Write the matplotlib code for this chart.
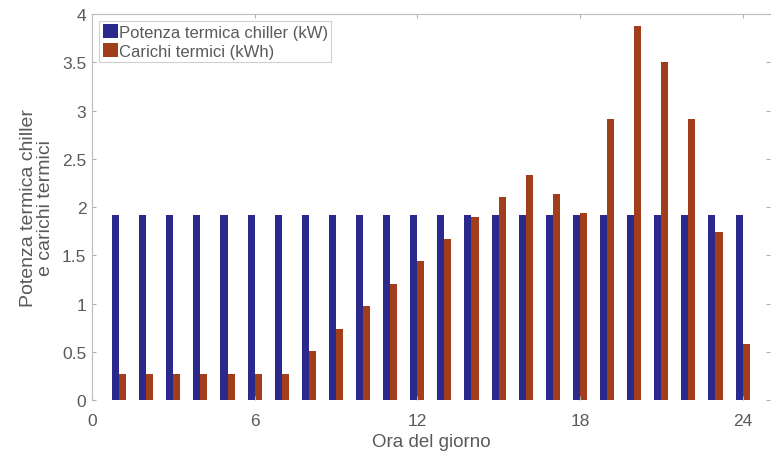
import numpy as np
import matplotlib
matplotlib.use("Agg")
import matplotlib.pyplot as plt

# hours of the day and the two series
hours = list(range(1, 25))
chiller_kw = [1.92] * 24
carichi_kwh = [0.27, 0.27, 0.27, 0.27, 0.27, 0.27, 0.27, 0.51, 0.74, 0.97, 1.20, 1.44,
               1.67, 1.90, 2.10, 2.33, 2.13, 1.94, 2.91, 3.88, 3.50, 2.91, 1.74, 0.58]
xticks = [0, 6, 12, 18, 24]
yticks = [0, 0.5, 1, 1.5, 2, 2.5, 3, 3.5, 4]

blue = "#2b2a8c"
red = "#a13d1b"
grey = "#5a5a5a"

plt.rcParams["font.family"] = ["Liberation Sans", "DejaVu Sans"]

fig = plt.figure(figsize=(7.71, 4.56), dpi=100)
ax = fig.add_axes([0.1193, 0.1206, 0.879, 0.8465])

x = np.array(hours)
w = 0.26
ax.bar(x - w / 2, chiller_kw, width=w, color=blue, label="Potenza termica chiller (kW)")
ax.bar(x + w / 2, carichi_kwh, width=w, color=red, label="Carichi termici (kWh)")

ax.set_xlim(0, 25)
ax.set_ylim(0, 4)
ax.set_xticks(xticks)
ax.set_yticks(yticks)
ax.set_yticklabels(["0", "0.5", "1", "1.5", "2", "2.5", "3", "3.5", "4"])
ax.tick_params(direction="in", length=3, colors="#b0b0b0", labelcolor=grey,
               labelsize=12.5, top=True, right=True)
ax.tick_params(axis="x", pad=9)
ax.tick_params(axis="y", pad=4)

for side in ["left", "top", "right"]:
    ax.spines[side].set_color("#bdbdbd")
    ax.spines[side].set_linewidth(0.8)
ax.spines["right"].set_visible(False)
ax.spines["bottom"].set_visible(False)

ax.set_xlabel("Ora del giorno", fontsize=13.5, color=grey, labelpad=4)
ax.set_ylabel("Potenza termica chiller\ne carichi termici", fontsize=14, color=grey,
              labelpad=6, linespacing=0.95, multialignment="center")

leg = ax.legend(loc="upper left", bbox_to_anchor=(0.011, 0.982), fontsize=12,
                handlelength=0.9, handleheight=0.9, handletextpad=0.05,
                borderpad=0.2, borderaxespad=0, labelspacing=0.2,
                fancybox=False, framealpha=1)
leg.get_frame().set_edgecolor("#d0d0d0")
leg.get_frame().set_linewidth(0.8)
for t in leg.get_texts():
    t.set_color(grey)

fig.savefig("out.png", dpi=100)
